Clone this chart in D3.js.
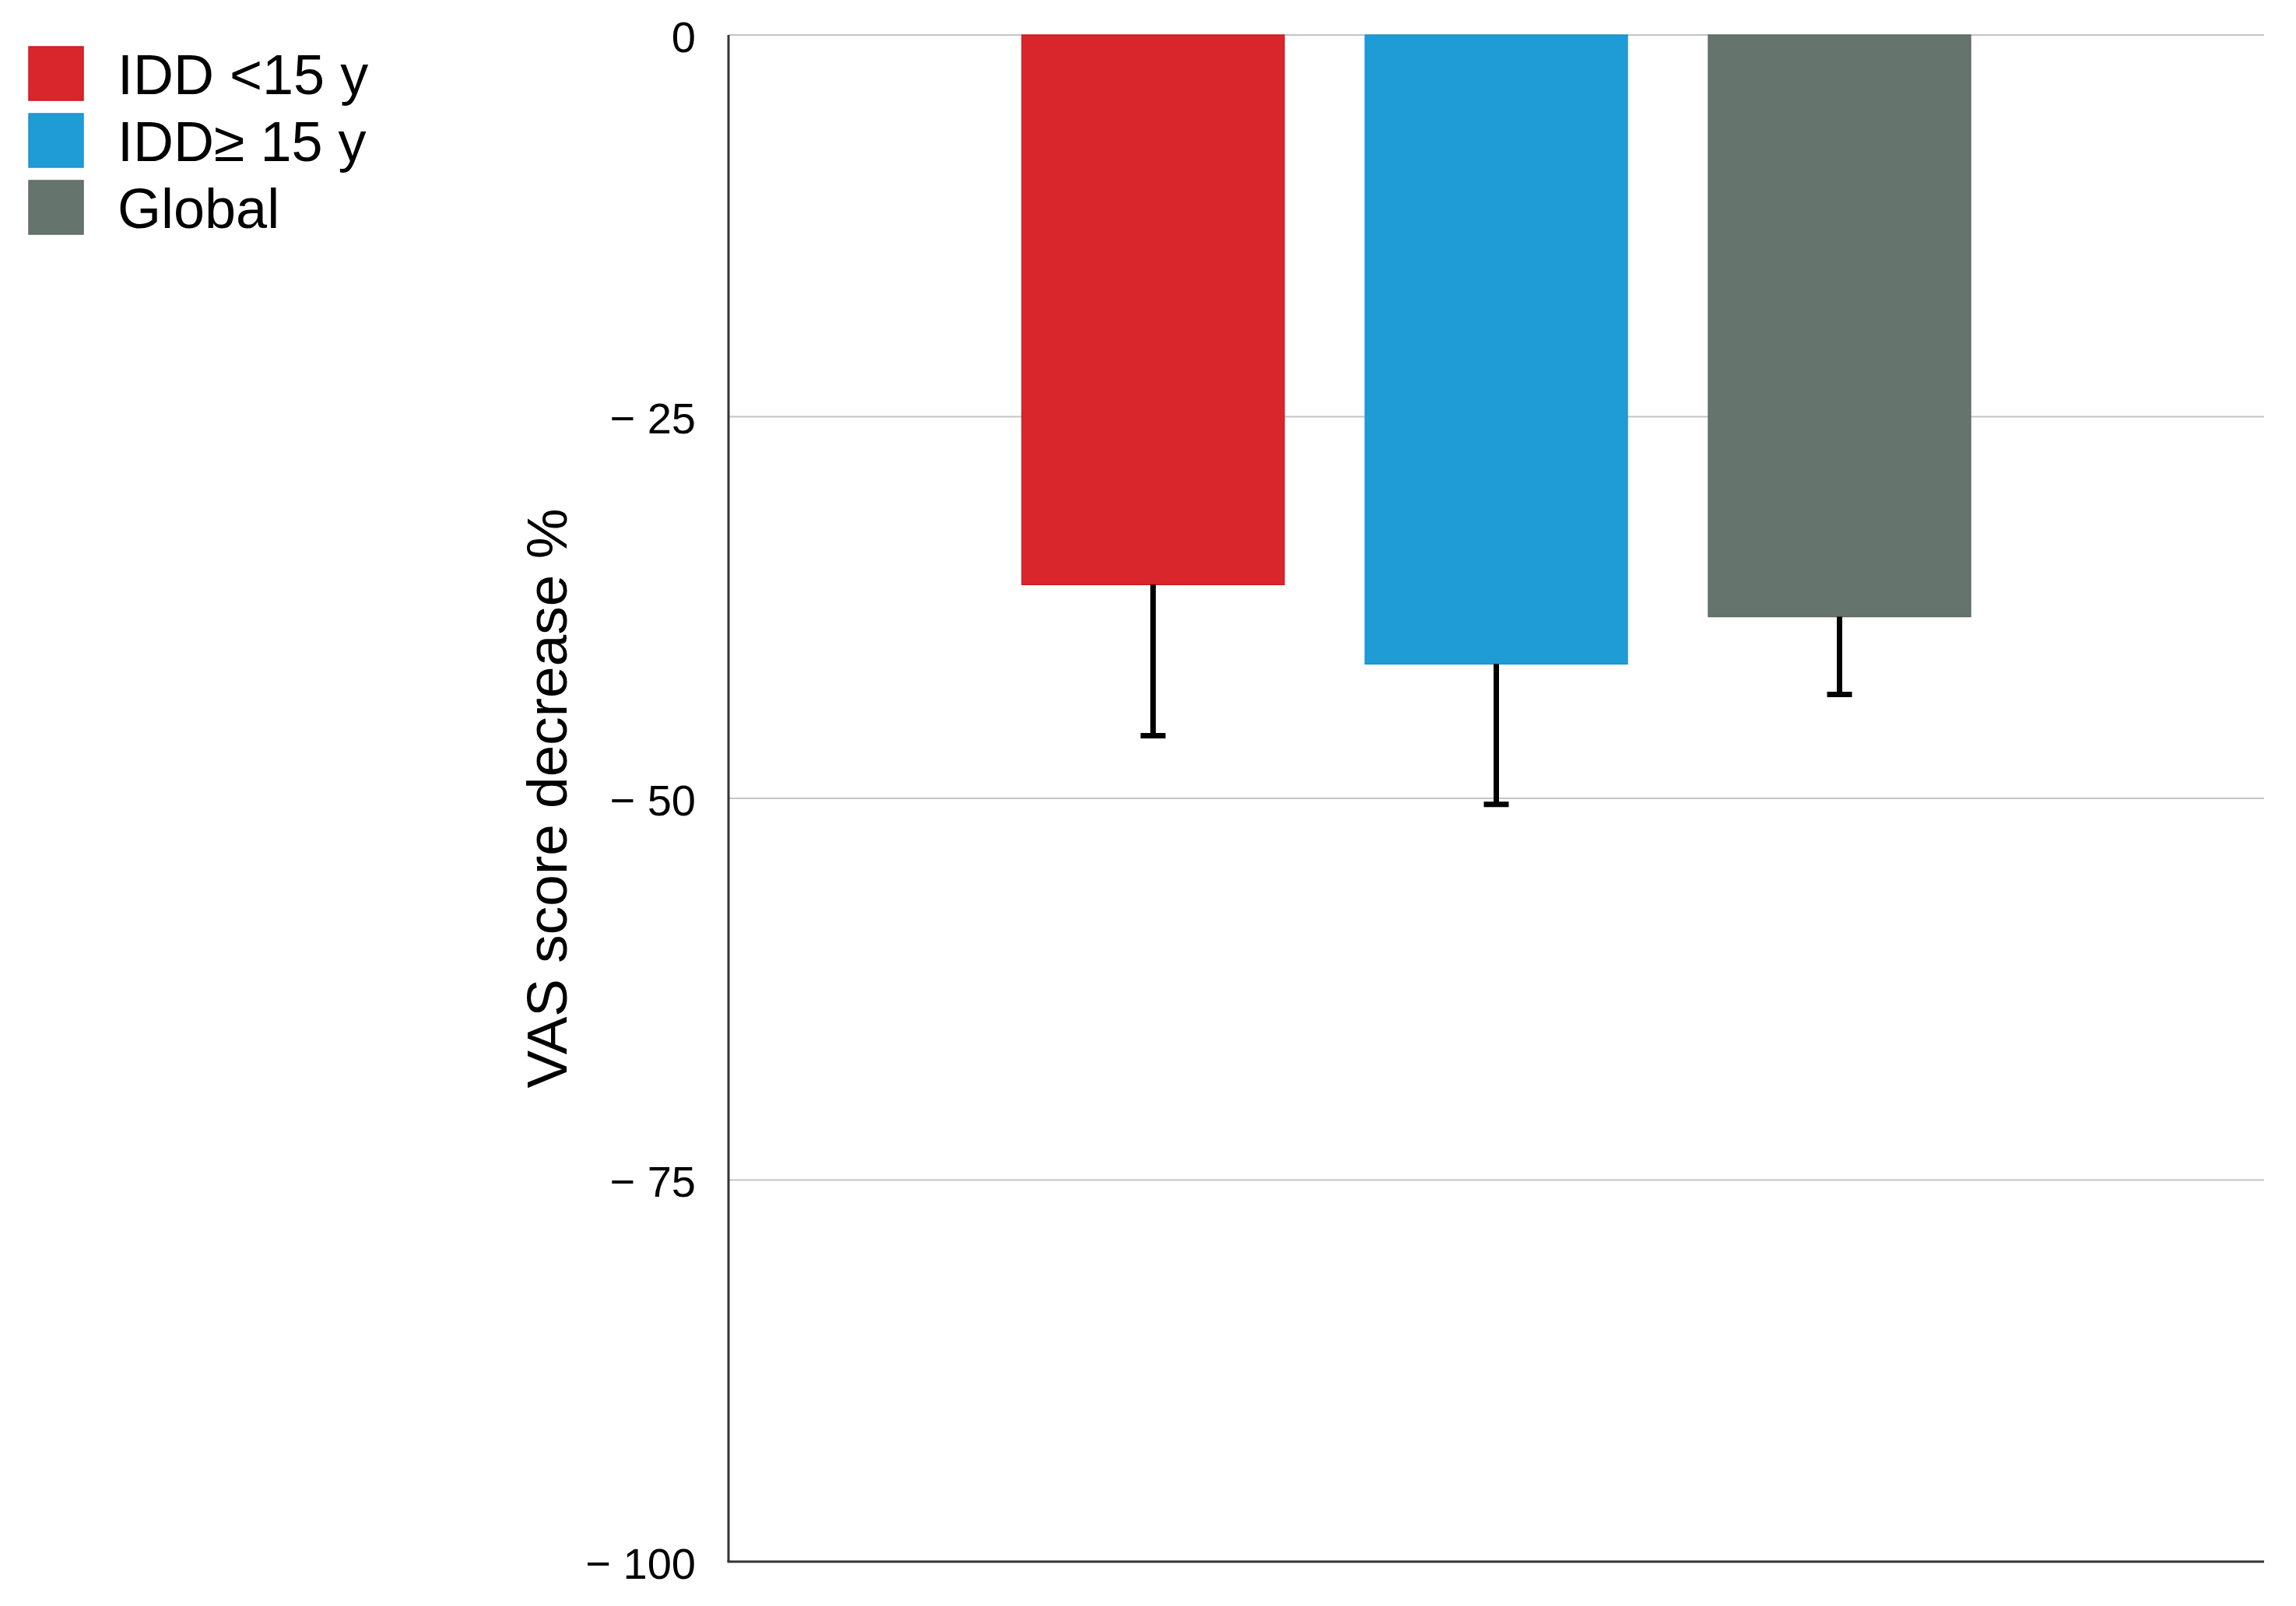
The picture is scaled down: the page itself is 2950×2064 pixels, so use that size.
<!DOCTYPE html>
<html>
<head>
<meta charset="utf-8">
<script src="https://cdn.jsdelivr.net/npm/d3@7"></script>
<style>
  html, body { margin: 0; padding: 0; background: #fff; }
  svg { display: block; }
  text { font-family: "Liberation Sans", Arial, Helvetica, sans-serif; fill: #000; }
</style>
</head>
<body>
<svg id="chart" width="2950" height="2064"></svg>
<script>
const categories = ["IDD <15 y", "IDD\u2265 15 y", "Global"];
const values = [-36.0, -41.2, -38.1];
const errors = [9.9, 9.2, 5.1];
const colors = ["#d9262c", "#1f9bd5", "#66746e"];
const strokeColors = ["#d2161c", "#1b93cc", "#5c6a64"];
const yTicks = [0, -25, -50, -75, -100];
const yTitle = "VAS score decrease %";

const svg = d3.select("#chart");
const plot = { left: 936, right: 2909, top: 45, bottom: 2007 };

const x = d3.scaleBand()
  .domain(categories)
  .range([plot.left, plot.right])
  .paddingInner(0.236)
  .paddingOuter(0.855);

const y = d3.scaleLinear().domain([0, -100]).range([plot.top, plot.bottom]);

const fmt = v => v === 0 ? "0" : "\u2212 " + Math.abs(v);

// gridlines
svg.append("g")
  .selectAll("line")
  .data(yTicks.filter(t => t !== -100))
  .join("line")
  .attr("x1", plot.left).attr("x2", plot.right)
  .attr("y1", d => y(d)).attr("y2", d => y(d))
  .attr("stroke", "#c4c4c4").attr("stroke-width", 2);

// y axis
const yAxis = d3.axisLeft(y).tickValues(yTicks).tickFormat(fmt).tickSize(0).tickPadding(42);
const yg = svg.append("g").attr("transform", `translate(${plot.left},0)`).call(yAxis);
yg.select(".domain").remove();
yg.selectAll("text")
  .style("font-family", '"Liberation Sans", Arial, Helvetica, sans-serif')
  .style("font-size", "56px")
  .attr("fill", "#000")
  .attr("dy", "0.38em");

// axis lines (left and bottom)
svg.append("line")
  .attr("x1", plot.left).attr("x2", plot.left)
  .attr("y1", plot.top).attr("y2", plot.bottom)
  .attr("stroke", "#333").attr("stroke-width", 3);
svg.append("line")
  .attr("x1", plot.left - 1.5).attr("x2", plot.right)
  .attr("y1", y(-100)).attr("y2", y(-100))
  .attr("stroke", "#333").attr("stroke-width", 3);

// bars
const data = categories.map((c, i) => ({ c, v: values[i], e: errors[i], i }));
svg.append("g")
  .selectAll("rect")
  .data(data)
  .join("rect")
  .attr("x", d => x(d.c))
  .attr("width", x.bandwidth())
  .attr("y", d => y(0))
  .attr("height", d => y(d.v) - y(0))
  .attr("fill", d => colors[d.i])
  .attr("stroke", d => strokeColors[d.i])
  .attr("stroke-width", 1.5);

// error bars
const eg = svg.append("g");
const capW = 32;
eg.selectAll("line.stem")
  .data(data)
  .join("line")
  .attr("class", "stem")
  .attr("x1", d => x(d.c) + x.bandwidth() / 2)
  .attr("x2", d => x(d.c) + x.bandwidth() / 2)
  .attr("y1", d => y(d.v))
  .attr("y2", d => y(d.v - d.e))
  .attr("stroke", "#000").attr("stroke-width", 7);
eg.selectAll("line.cap")
  .data(data)
  .join("line")
  .attr("class", "cap")
  .attr("x1", d => x(d.c) + x.bandwidth() / 2 - capW / 2)
  .attr("x2", d => x(d.c) + x.bandwidth() / 2 + capW / 2)
  .attr("y1", d => y(d.v - d.e))
  .attr("y2", d => y(d.v - d.e))
  .attr("stroke", "#000").attr("stroke-width", 7);

// y title
svg.append("text")
  .attr("transform", `translate(728, ${(plot.top + plot.bottom) / 2}) rotate(-90)`)
  .attr("text-anchor", "middle")
  .style("font-size", "73px")
  .text(yTitle);

// legend
const lg = svg.append("g");
const legRow = lg.selectAll("g")
  .data(data)
  .join("g")
  .attr("transform", d => `translate(37, ${60 + d.i * 86})`);
legRow.append("rect")
  .attr("width", 70).attr("height", 69)
  .attr("fill", d => colors[d.i])
  .attr("stroke", d => strokeColors[d.i])
  .attr("stroke-width", 1.5);
legRow.append("text")
  .attr("x", 114).attr("y", 61)
  .style("font-size", "72px")
  .text(d => d.c);
</script>
</body>
</html>
